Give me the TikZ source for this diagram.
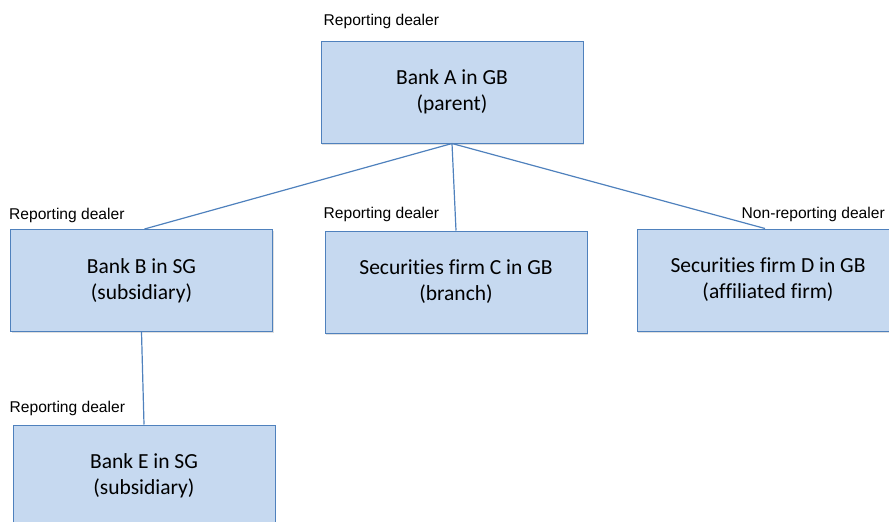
\documentclass[tikz,border=0pt]{standalone}
\usepackage{fontspec}
\setmainfont{Carlito}[Ligatures=NoCommon]
\newfontfamily\lblfont{Liberation Sans}
\usetikzlibrary{shadows}
\definecolor{boxfill}{HTML}{C6D9F0}
\definecolor{boxline}{HTML}{4F81BD}

\begin{document}
\begin{tikzpicture}[x=1pt, y=-1pt,
    entity/.style={draw=boxline, line width=1pt, fill=boxfill, rectangle,
        minimum width=262pt, minimum height=102pt, inner sep=0pt, align=center,
        font=\fontsize{21.5}{26}\selectfont,
        drop shadow={shadow xshift=1pt, shadow yshift=-1.5pt, opacity=0.25}},
    dealer/.style={inner sep=0pt, font=\lblfont\fontsize{15.6}{18}\selectfont, anchor=base west},
    link/.style={draw=boxline, line width=1.2pt}]
    \clip (0,0) rectangle (889,522);

    % Nodes
    \node (bankA) [entity] at (452,92) {Bank A in GB\\(parent)};
    \node (bankB) [entity] at (141.5,280.5) {Bank B in SG\\(subsidiary)};
    \node (firmC) [entity] at (456,282) {Securities firm C in GB\\(branch)};
    \node (firmD) [entity] at (768,280) {Securities firm D in GB\\(affiliated firm)};
    \node (bankE) [entity] at (144,476) {Bank E in SG\\(subsidiary)};

    % Labels
    \node (labelA) [dealer] at ([xshift=3pt, yshift=15pt]bankA.north west) {Reporting dealer};
    \node (labelB) [dealer] at ([xshift=-1pt, yshift=10pt]bankB.north west) {Reporting dealer};
    \node (labelC) [dealer] at ([xshift=-1pt, yshift=12pt]firmC.north west) {Reporting dealer};
    \node (labelD) [dealer] at ([xshift=105pt, yshift=10pt]firmD.north west) {Non-reporting dealer};
    \node (labelE) [dealer] at ([xshift=-3pt, yshift=12pt]bankE.north west) {Reporting dealer};

    % Lines
    \draw[link] (bankA.south) -- ([xshift=3pt]bankB.north);
    \draw[link] (bankA.south) -- (firmC.north);
    \draw[link] (bankA.south) -- ([xshift=-3pt]firmD.north);
    \draw[link] (bankB.south) -- (bankE.north);
\end{tikzpicture}
\end{document}
